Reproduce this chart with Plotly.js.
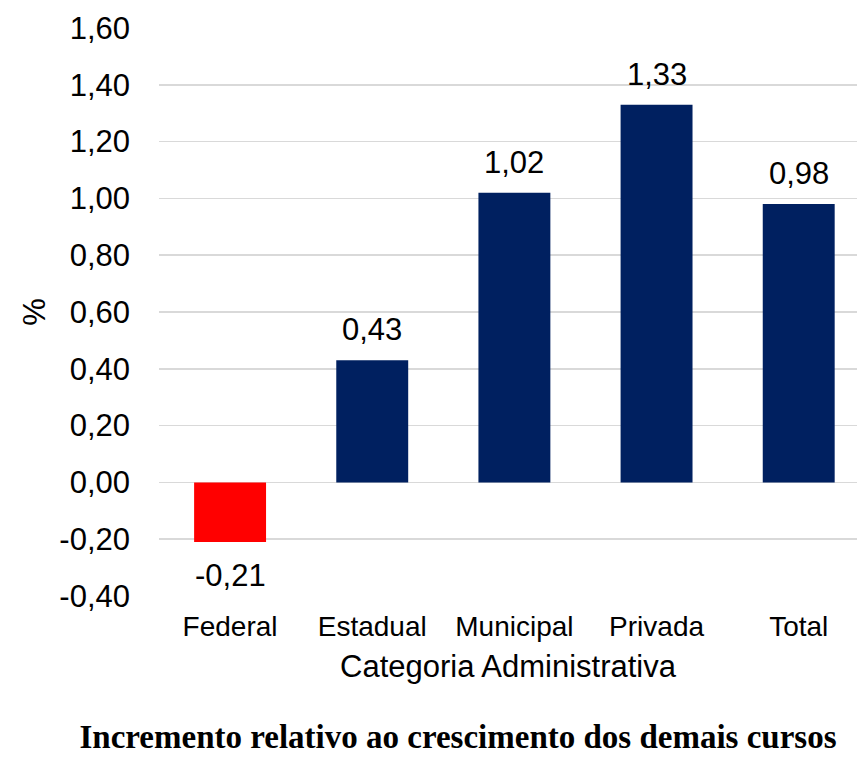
<!DOCTYPE html>
<html>
<head>
<meta charset="utf-8">
<script src="https://cdn.plot.ly/plotly-3.0.1.min.js"></script>
<style>html,body{margin:0;padding:0;background:#fff;overflow:hidden}</style>
</head>
<body>
<div id="chart" style="width:857px;height:758px"></div>
<script>
const categories = ["Federal", "Estadual", "Municipal", "Privada", "Total"];
const values = [-0.21, 0.43, 1.02, 1.33, 0.98];
const barColors = ["#FF0000", "#002060", "#002060", "#002060", "#002060"];
const yTickValues = [-0.4, -0.2, 0, 0.2, 0.4, 0.6, 0.8, 1.0, 1.2, 1.4, 1.6];
const chartTitle = "Incremento relativo ao crescimento dos demais cursos";
const xTitle = "Categoria Administrativa";
const yTitle = "%";

const fmt = v => v.toFixed(2).replace('.', ',');

const trace = {
  type: 'bar',
  x: categories,
  y: values,
  marker: {color: barColors},
  hoverinfo: 'none'
};

const annotations = categories.map((c, i) => ({
  x: c, y: values[i], xref: 'x', yref: 'y',
  text: fmt(values[i]),
  showarrow: false,
  yanchor: values[i] >= 0 ? 'bottom' : 'top',
  yshift: values[i] >= 0 ? 11 : -14,
  font: {family: 'Liberation Sans, Arial, sans-serif', size: 31, color: '#000'}
}));

const layout = {
  width: 857, height: 758,
  margin: {l: 159, r: 0, t: 28, b: 162},
  paper_bgcolor: '#fff', plot_bgcolor: '#fff',
  showlegend: false,
  bargap: 0.494,
  font: {family: 'Liberation Sans, Arial, sans-serif', color: '#000'},
  title: {
    text: '<b>' + chartTitle + '</b>',
    font: {family: 'Liberation Serif, Times New Roman, serif', size: 33, color: '#000'},
    x: 458 / 857, xanchor: 'center', xref: 'container',
    y: 10 / 758, yref: 'container', yanchor: 'bottom'
  },
  xaxis: {
    range: [-0.5, 4.41],
    showgrid: false, zeroline: false, showline: false,
    ticks: '', ticklabelstandoff: 11,
    tickfont: {size: 28, color: '#000'},
    title: {text: xTitle, font: {size: 31, color: '#000'}, standoff: 14}
  },
  yaxis: {
    range: [-0.4, 1.6],
    tickmode: 'array',
    tickvals: yTickValues,
    ticktext: yTickValues.map(fmt),
    showgrid: true, gridcolor: '#d9d9d9', gridwidth: 1.5,
    zeroline: true, zerolinecolor: '#d9d9d9', zerolinewidth: 1.5,
    showline: false, ticks: '', ticklabelstandoff: 28,
    tickfont: {size: 31, color: '#000'},
    title: {text: yTitle, font: {size: 31, color: '#000'}, standoff: 4}
  },
  annotations: annotations
};

Plotly.newPlot('chart', [trace], layout, {displayModeBar: false, staticPlot: true});
</script>
</body>
</html>
